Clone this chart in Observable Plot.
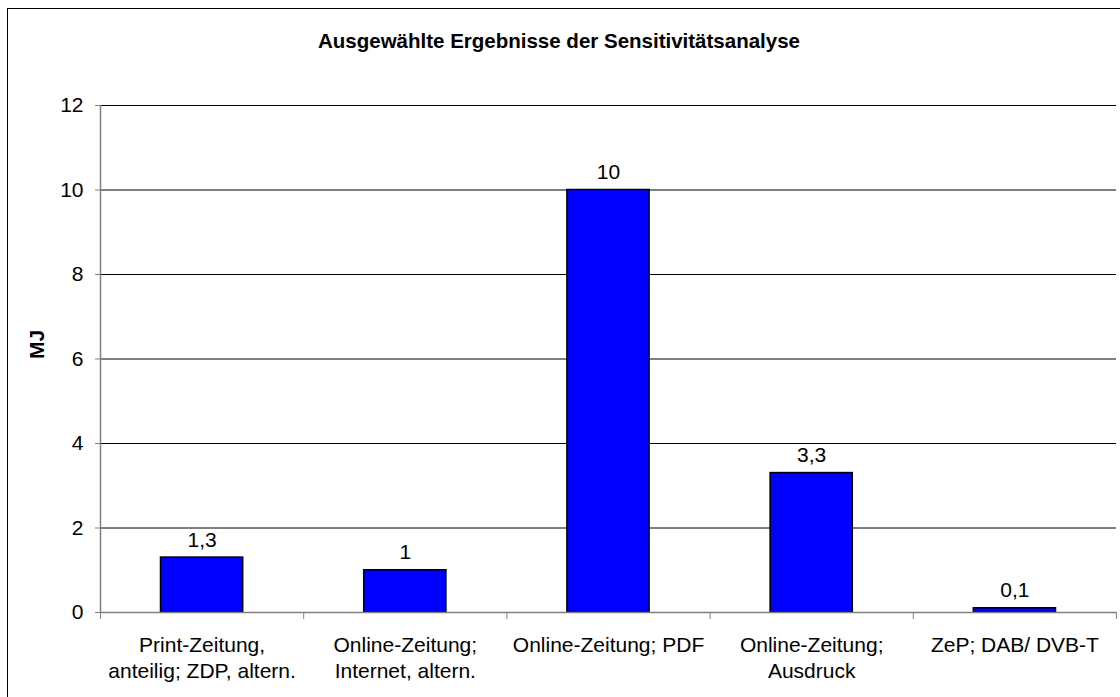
<!DOCTYPE html>
<html>
<head>
<meta charset="utf-8">
<script src="https://cdn.jsdelivr.net/npm/d3@7"></script>
<script src="https://cdn.jsdelivr.net/npm/@observablehq/plot@0.6"></script>
<style>
  html, body { margin: 0; padding: 0; background: #fff; overflow: hidden; }
  #wrap { position: relative; width: 1120px; height: 697px; overflow: hidden; font-family: "Liberation Sans", Arial, sans-serif; }
  #border { position: absolute; left: 7px; top: 8px; width: 2000px; height: 2000px; border-left: 1.5px solid #000; border-top: 1.5px solid #000; box-sizing: border-box; }
  #title { position: absolute; left: 0; top: 30px; width: 1118px; text-align: center; font-weight: bold; font-size: 20.5px; line-height: 21px; color: #000; }
  #chart { position: absolute; left: 0; top: 0; }
</style>
</head>
<body>
<div id="wrap">
  <div id="border"></div>
  <div id="chart"></div>
  <div id="title">Ausgewählte Ergebnisse der Sensitivitätsanalyse</div>
</div>
<script>
const categories = [
  "Print-Zeitung,\nanteilig; ZDP, altern.",
  "Online-Zeitung;\nInternet, altern.",
  "Online-Zeitung; PDF",
  "Online-Zeitung;\nAusdruck",
  "ZeP; DAB/ DVB-T"
];
const values = [1.3, 1, 10, 3.3, 0.1];
const yTicks = [0, 2, 4, 6, 8, 10, 12];
const yLabel = "MJ";

const data = categories.map((c, i) => ({i, category: c, value: values[i]}));
const boundaries = d3.range(categories.length + 1);
const centers = categories.map((c, i) => i + 0.5);
const fmt = v => String(v).replace(".", ",");

const chart = Plot.plot({
  width: 1120,
  height: 697,
  marginTop: 105,
  marginBottom: 85,
  marginLeft: 100,
  marginRight: 4,
  style: {fontFamily: "'Liberation Sans', Arial, sans-serif", fontSize: "21px", color: "#000", background: "transparent"},
  x: {type: "linear", domain: [0, categories.length]},
  y: {domain: [0, 12]},
  marks: [
    Plot.ruleY(yTicks.filter(t => t > 0), {stroke: "#000", strokeWidth: 1}),
    Plot.rectY(data, {x1: d => d.i, x2: d => d.i + 1, y: "value", fill: "#0000FF", stroke: "#000", strokeWidth: 1.5, insetLeft: 60.5, insetRight: 60.5}),
    Plot.ruleY([0], {stroke: "#808080", strokeWidth: 1.5}),
    Plot.ruleX([0], {stroke: "#808080", strokeWidth: 1.5}),
    Plot.axisY(yTicks, {tickSize: 5, tickPadding: 12, fontSize: 21, stroke: "#808080", fill: "#000", label: null}),
    Plot.axisX(boundaries, {tickSize: 7, tickFormat: () => "", stroke: "#808080", label: null}),
    Plot.axisX(centers, {tickSize: 0, tickPadding: 22, fontSize: 21, lineHeight: 1.2, fill: "#000", tickFormat: v => categories[Math.floor(v)], label: null}),
    Plot.text(data, {x: d => d.i + 0.5, y: "value", text: d => fmt(d.value), lineAnchor: "bottom", dy: -11, fontSize: 21, fill: "#000"}),
    Plot.text([yLabel], {frameAnchor: "left", text: d => d, rotate: -90, dx: -63, fontSize: 21, fontWeight: "bold", fill: "#000"})
  ]
});
document.getElementById("chart").appendChild(chart);
</script>
</body>
</html>
